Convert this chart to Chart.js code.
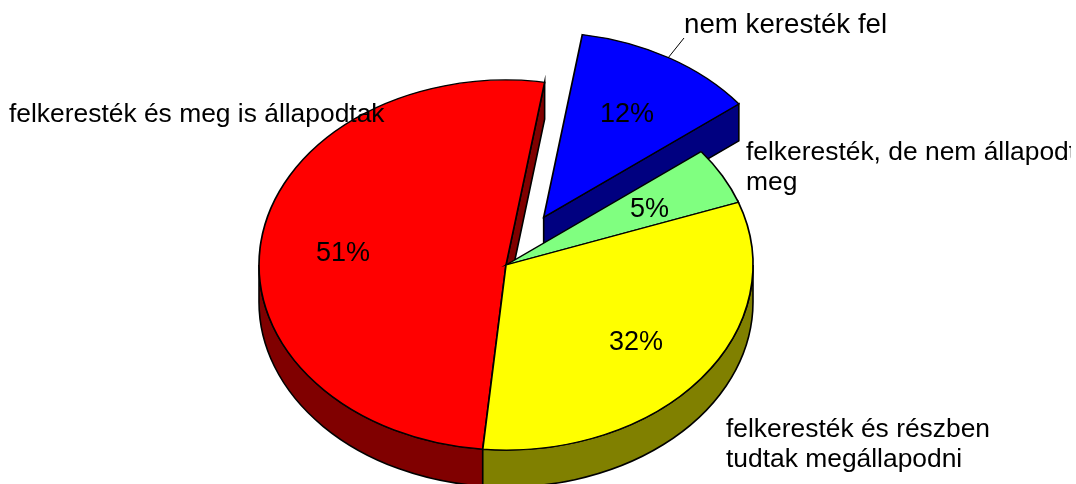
<!DOCTYPE html>
<html>
<head>
<meta charset="utf-8">
<style>html,body{margin:0;padding:0;background:#fff}canvas{display:block}</style>
<script src="https://cdn.jsdelivr.net/npm/chart.js@4"></script>
</head>
<body>
<canvas id="c" width="1076" height="484"></canvas>
<script>
// Data, clockwise from the lower edge of the red slice
const categories = ["felkeresték és meg is állapodtak", "nem keresték fel", "felkeresték, de nem állapodtak meg", "felkeresték és részben tudtak megállapodni"];
const values = [51, 12, 5, 32];
const explodedBy = [0, 74, 0, 0];
const topColors = ["#FF0000", "#0000FF", "#80FF80", "#FFFF00"];
const sideColors = ["#800000", "#000080", "#408040", "#808000"];

// Layout
const RADIUS = 247, TILT = 0.749, DEPTH = 37, ROTATION = 185.4;
const FAMILY = '"Liberation Sans", Arial, sans-serif';
const percentPos = [[316, 261], [600, 122], [630, 217], [609, 350]];
const calloutPos = [
  {lines: ["felkeresték és meg is állapodtak"], x: 9, y: 122, size: 26.4},
  {lines: ["nem keresték fel"], x: 684, y: 33, size: 27.7},
  {lines: ["felkeresték, de nem állapodtak", "meg"], x: 746, y: 160, clipRight: 1071, lineGap: 30, size: 26.4},
  {lines: ["felkeresték és részben", "tudtak megállapodni"], x: 726, y: 437, lineGap: 30, size: 26.4}
];
const leader = [[684, 38], [668, 58]];

const tiltPlugin = {
  id: 'tilt',
  afterDatasetsUpdate(chart) {
    chart.getDatasetMeta(0).data.forEach((arc, i) => {
      const mid = (arc.startAngle + arc.endAngle) / 2;
      arc.x += explodedBy[i] * Math.cos(mid);
      arc.y += explodedBy[i] * Math.sin(mid);
    });
  },
  beforeDatasetsDraw(chart) {
    const ctx = chart.ctx, arcs = chart.getDatasetMeta(0).data;
    const tiltY = y => arcs[0].y + (y - arcs[0].y) * TILT;
    ctx.save();
    ctx.lineWidth = 1.6;
    ctx.strokeStyle = '#000';
    ctx.lineJoin = 'miter';
    arcs.forEach((arc, i) => {
      const ay = tiltY(arc.y);
      // outer wall: the part of the rim that faces the viewer
      [0, 2 * Math.PI].forEach(k => {
        const a = Math.max(arc.startAngle, k), b = Math.min(arc.endAngle, k + Math.PI);
        if (b <= a) return;
        ctx.beginPath();
        ctx.ellipse(arc.x, ay, arc.outerRadius, arc.outerRadius * TILT, 0, a, b);
        ctx.ellipse(arc.x, ay + DEPTH, arc.outerRadius, arc.outerRadius * TILT, 0, b, a, true);
        ctx.closePath();
        ctx.fillStyle = sideColors[i];
        ctx.fill();
        ctx.stroke();
      });
      // cut face, seen only where a slice has been pulled away
      const next = (i + 1) % arcs.length;
      if (explodedBy[i] || explodedBy[next]) {
        const ex = arc.x + arc.outerRadius * Math.cos(arc.endAngle);
        const ey = ay + arc.outerRadius * TILT * Math.sin(arc.endAngle);
        ctx.beginPath();
        ctx.moveTo(arc.x, ay);
        ctx.lineTo(ex, ey);
        ctx.lineTo(ex, ey + DEPTH);
        ctx.lineTo(arc.x, ay + DEPTH);
        ctx.closePath();
        ctx.fillStyle = sideColors[i];
        ctx.fill();
        ctx.stroke();
      }
    });
    ctx.restore();
    ctx.save();
    ctx.translate(0, arcs[0].y);
    ctx.scale(1, TILT);
    ctx.translate(0, -arcs[0].y);
  },
  afterDatasetsDraw(chart) {
    const ctx = chart.ctx;
    ctx.restore();
    ctx.save();
    ctx.fillStyle = '#000';
    ctx.font = '27px ' + FAMILY;
    ctx.textAlign = 'left';
    ctx.textBaseline = 'alphabetic';
    values.forEach((v, i) => ctx.fillText(v + '%', percentPos[i][0], percentPos[i][1]));
    ctx.strokeStyle = '#000';
    ctx.lineWidth = 1;
    ctx.beginPath();
    ctx.moveTo(leader[0][0], leader[0][1]);
    ctx.lineTo(leader[1][0], leader[1][1]);
    ctx.stroke();
    calloutPos.forEach(c => {
      ctx.save();
      ctx.font = c.size + 'px ' + FAMILY;
      if (c.clipRight) {
        ctx.beginPath();
        ctx.rect(0, 0, c.clipRight, chart.height);
        ctx.clip();
      }
      c.lines.forEach((t, j) => ctx.fillText(t, c.x, c.y + j * (c.lineGap || 0)));
      ctx.restore();
    });
    ctx.restore();
  }
};

new Chart(document.getElementById('c'), {
  type: 'pie',
  data: {
    labels: categories,
    datasets: [{
      data: values,
      backgroundColor: topColors,
      borderColor: '#000',
      borderWidth: 1.7,
      borderJoinStyle: 'miter',
      clip: false
    }]
  },
  options: {
    responsive: false,
    animation: false,
    rotation: ROTATION,
    radius: RADIUS,
    layout: {padding: {left: 0, right: 64, top: 46, bottom: 0}},
    events: [],
    plugins: {legend: {display: false}, tooltip: {enabled: false}, title: {display: false}}
  },
  plugins: [tiltPlugin]
});
</script>
</body>
</html>
